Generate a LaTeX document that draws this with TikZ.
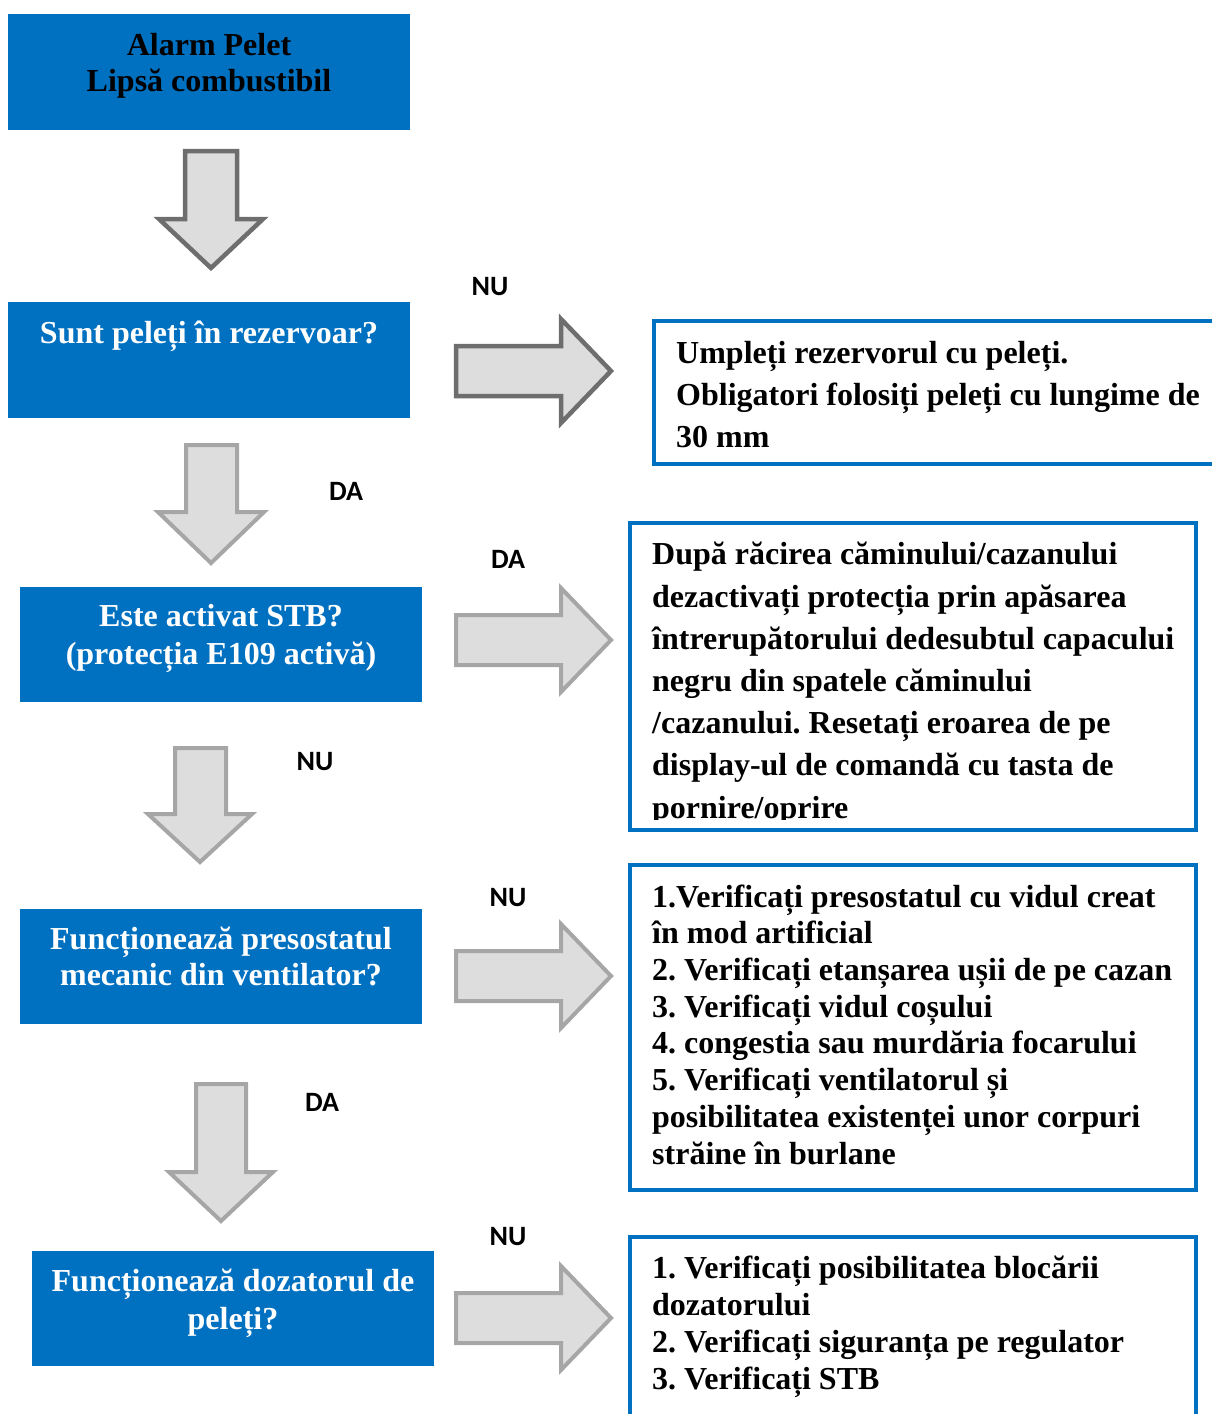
\documentclass[tikz,border=0pt]{standalone}
\usepackage{fontspec}
\setmainfont{Liberation Serif}
\newfontfamily\labfont{Carlito}
\definecolor{boxblue}{HTML}{0070C0}
\definecolor{arrfill}{HTML}{DDDDDD}
\definecolor{arrdark}{HTML}{6E6E6E}
\definecolor{arrlight}{HTML}{A6A6A6}
\tikzset{
  bluebox/.style={fill=boxblue, draw=none, anchor=north west, inner sep=0pt},
  bluetext/.style={anchor=base, align=center, inner sep=0pt, text=white,
    font={\fontsize{32}{#1}\selectfont\bfseries\frenchspacing}},
  infobox/.style={draw=boxblue, line width=4pt, fill=none},
  infotext/.style={anchor=base west, align=left, inner sep=0pt, text=black,
    font={\fontsize{32}{#1}\selectfont\bfseries\frenchspacing}},
  darrow/.style={fill=arrfill, draw=arrdark, line width=4.5pt, line join=miter},
  larrow/.style={fill=arrfill, draw=arrlight, line width=4pt, line join=miter},
  lab/.style={inner sep=0pt, font={\labfont\fontsize{28}{30}\selectfont\bfseries}}
}
\begin{document}
\frenchspacing
\begin{tikzpicture}[x=1pt,y=-1pt]
\useasboundingbox (0,0) rectangle (1211,1414);
% blue decision boxes (text anchors at the baseline of the last line)
\node[bluebox, minimum width=402pt, minimum height=116pt] (b1) at (8,14) {};
\node[bluetext=36, text=black] (t1) at (209,91) {Alarm Pelet\\Lipsă combustibil};
\node[bluebox, minimum width=402pt, minimum height=116pt] (b2) at (8,302) {};
\node[bluetext=36] (t2) at (209,343) {Sunt peleți în rezervoar?};
\node[bluebox, minimum width=402pt, minimum height=115pt] (b3) at (20,587) {};
\node[bluetext=38] (t3) at (221,664) {Este activat STB?\\(protecția E109 activă)};
\node[bluebox, minimum width=402pt, minimum height=115pt] (b4) at (20,909) {};
\node[bluetext=36] (t4) at (221,985) {Funcționează presostatul\\mecanic din ventilator?};
\node[bluebox, minimum width=402pt, minimum height=115pt] (b5) at (32,1251) {};
\node[bluetext=38] (t5) at (233,1329) {Funcționează dozatorul de\\peleți?};
% info boxes
\draw[infobox] (654,321) rectangle (1216,464);
\node[infotext=42] (i1) at (676,447) {Umpleți rezervorul cu peleți.\\Obligatori folosiți peleți cu lungime de\\30 mm};
\begin{scope}
\clip (628,521) rectangle (1198,819);
\node[infotext=42.2] (i2) at (652,818) {După răcirea căminului/cazanului\\dezactivați protecția prin apăsarea\\întrerupătorului dedesubtul capacului\\negru din spatele căminului\\/cazanului. Resetați eroarea de pe\\display-ul de comandă cu tasta de\\pornire/oprire};
\end{scope}
\draw[infobox] (630,523) rectangle (1196,830);
\draw[infobox] (630,865) rectangle (1196,1190);
\node[infotext=36.7] (i3) at (652,1164) {1.Verificați presostatul cu vidul creat\\în mod artificial\\2. Verificați etanșarea ușii de pe cazan\\3. Verificați vidul coșului\\4. congestia sau murdăria focarului\\5. Verificați ventilatorul și\\posibilitatea existenței unor corpuri\\străine în burlane};
\draw[infobox] (630,1237) rectangle (1196,1425);
\node[infotext=36.8] (i4) at (652,1389) {1. Verificați posibilitatea blocării\\dozatorului\\2. Verificați siguranța pe regulator\\3. Verificați STB};
% down arrows
\draw[darrow] (185,151) -- (237,151) -- (237,219) -- (263,219) -- (211,268) -- (159,219) -- (185,219) -- cycle;
\draw[larrow] (186,445) -- (237,445) -- (237,512) -- (264,512) -- (211,563) -- (158,512) -- (186,512) -- cycle;
\draw[larrow] (175,748) -- (226,748) -- (226,814) -- (252,814) -- (200,862) -- (148,814) -- (175,814) -- cycle;
\draw[larrow] (196,1084) -- (246,1084) -- (246,1172) -- (273,1172) -- (221,1221) -- (169,1172) -- (196,1172) -- cycle;
% right arrows
\draw[darrow] (456,346) -- (561,346) -- (561,319) -- (611,371) -- (561,423) -- (561,396) -- (456,396) -- cycle;
\draw[larrow] (456,615) -- (561,615) -- (561,588) -- (611,640) -- (561,692) -- (561,665) -- (456,665) -- cycle;
\draw[larrow] (456,951) -- (561,951) -- (561,924) -- (611,976) -- (561,1028) -- (561,1001) -- (456,1001) -- cycle;
\draw[larrow] (456,1293) -- (561,1293) -- (561,1266) -- (611,1318) -- (561,1370) -- (561,1343) -- (456,1343) -- cycle;
% labels
\node[lab] (l1) at (490,287) {NU};
\node[lab] (l2) at (346,491) {DA};
\node[lab] (l3) at (508,559) {DA};
\node[lab] (l4) at (315,762) {NU};
\node[lab] (l5) at (508,898) {NU};
\node[lab] (l6) at (322,1102) {DA};
\node[lab] (l7) at (508,1237) {NU};
\end{tikzpicture}
\end{document}
